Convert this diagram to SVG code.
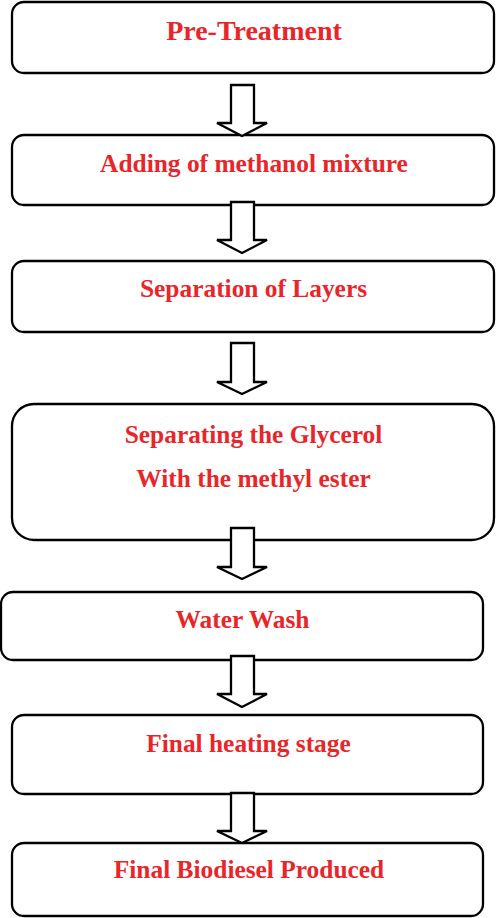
<svg xmlns="http://www.w3.org/2000/svg" width="496" height="918" viewBox="0 0 496 918">
<style>
.box{fill:#fff;stroke:#000;stroke-width:2.3}
.arr{fill:#fff;stroke:#000;stroke-width:2.3;stroke-linejoin:miter}
.t{font-family:"Liberation Serif","Times New Roman",serif;font-weight:bold;font-size:25.4px;fill:#e8262a;text-anchor:middle}
.big{font-size:28px}
</style>
<rect width="496" height="918" fill="#fff"/>
<g id="n1"><rect class="box" x="12" y="2" width="482" height="71" rx="12"/><text class="t big" x="254" y="40">Pre-Treatment</text></g>
<g id="n2"><rect class="box" x="12" y="135" width="482" height="70" rx="12"/><text class="t" x="254" y="172">Adding of methanol mixture</text></g>
<g id="n3"><rect class="box" x="12" y="261" width="482" height="71" rx="12"/><text class="t" x="253.5" y="297">Separation of Layers</text></g>
<g id="n4"><rect class="box" x="12" y="404" width="482" height="136" rx="22"/><text class="t" x="253.5" y="443">Separating the Glycerol</text><text class="t" x="253.5" y="487">With the methyl ester</text></g>
<g id="n5"><rect class="box" x="1" y="592" width="482" height="68" rx="12"/><text class="t" x="242.5" y="628">Water Wash</text></g>
<g id="n6"><rect class="box" x="12" y="715" width="471" height="79" rx="12"/><text class="t" x="248.5" y="752">Final heating stage</text></g>
<g id="n7"><rect class="box" x="12" y="843" width="471" height="73" rx="12"/><text class="t" x="249" y="878">Final Biodiesel Produced</text></g>
<g id="connectors">
<path class="arr" d="M231 85 H254 V123 H267 L242 136 L217 123 H231 Z"/>
<path class="arr" d="M231 202 H254 V240 H267 L242 253 L217 240 H231 Z"/>
<path class="arr" d="M231 343 H254 V382 H267 L242 394 L217 382 H231 Z"/>
<path class="arr" d="M231 528 H254 V567 H267 L242 579 L217 567 H231 Z"/>
<path class="arr" d="M231 656 H254 V694 H267 L242 707 L217 694 H231 Z"/>
<path class="arr" d="M231 793 H254 V831 H267 L242 843 L217 831 H231 Z"/>
</g>
</svg>
